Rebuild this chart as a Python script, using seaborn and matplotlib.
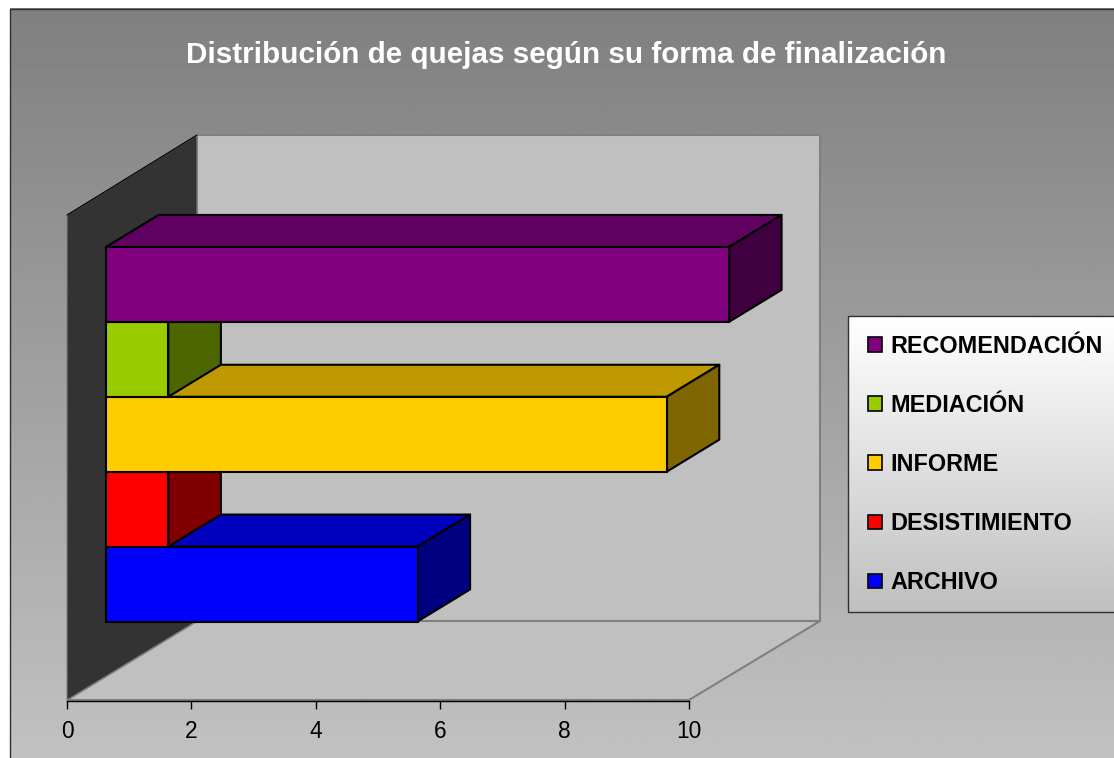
import matplotlib
matplotlib.use("Agg")
import matplotlib.pyplot as plt
import numpy as np
import seaborn as sns
from matplotlib.patches import Patch, Polygon, Rectangle

TITLE = "Distribución de quejas según su forma de finalización"
categories = ["RECOMENDACIÓN", "MEDIACIÓN", "INFORME", "DESISTIMIENTO", "ARCHIVO"]
values = [10, 1, 9, 1, 5]
front_colors = ["#800080", "#99CC00", "#FFCC00", "#FF0000", "#0000FF"]
top_colors = ["#600060", "#739900", "#BF9900", "#BF0000", "#0000BF"]
side_colors = ["#400040", "#4D6600", "#806600", "#800000", "#000080"]
x_ticks = [0, 2, 4, 6, 8, 10]

W, H = 1114, 758
DEPTH_X = 52.5 / 62.2  # depth offset in value units
DEPTH_Y = 32 / 74.8  # depth offset in category rows

sns.set_theme(style="white")
plt.rcParams["font.family"] = ["Liberation Sans", "DejaVu Sans"]


def px_axes(fig, left, top, right, bottom):
    return fig.add_axes([left / W, 1 - bottom / H, (right - left) / W, (bottom - top) / H])


def gradient(ax, x0, y0, x1, y1, c_top, c_bottom):
    ramp = np.linspace(c_top, c_bottom, 256).reshape(-1, 1)
    ax.imshow(ramp, cmap="gray", vmin=0, vmax=1, aspect="auto", extent=(x0, x1, y1, y0), zorder=1)


fig = plt.figure(figsize=(W / 100, H / 100), dpi=100, facecolor="white")

# backdrop in pixel coordinates: chart area, walls, floor, legend box
bg = fig.add_axes([0, 0, 1, 1])
gradient(bg, 9.5, 8.5, W + 5, H + 5, 0.5, 0.76)
bg.add_patch(Rectangle((9.5, 8.5), W, H, fill=False, ec="#303030", lw=1, zorder=2))
bg.add_patch(Polygon([(197, 135), (820, 135), (820, 621), (197, 621)], fc="#C0C0C0", ec="#808080", lw=1.5, zorder=2))
bg.add_patch(Polygon([(67, 700), (689, 700), (820, 621), (197, 621)], fc="#C0C0C0", ec="#808080", lw=1.5, zorder=3))
bg.add_patch(Polygon([(67, 215), (197, 135), (197, 621), (67, 700)], fc="#333333", ec="#808080", lw=0.8, zorder=4))
bg.plot([67, 197], [215, 135], color="black", lw=0.8, zorder=5)
gradient(bg, 848, 316, W + 5, 612, 1.0, 0.75)
bg.add_patch(Rectangle((848, 316), W, 296, fill=False, ec="#303030", lw=1, zorder=2))
bg.set_xlim(0, W)
bg.set_ylim(H, 0)
bg.axis("off")
bg.text(566, 55, TITLE, color="white", fontsize=21.3, fontweight="bold", ha="center", va="center", zorder=6)

# value axis along the front of the floor
ax_floor = px_axes(fig, 67, 640, 689, 700.5)
ax_floor.patch.set_visible(False)
ax_floor.set_xlim(0, 10)
ax_floor.set_xticks(x_ticks)
ax_floor.set_yticks([])
ax_floor.tick_params(axis="x", bottom=True, length=5.8, width=1, color="black", labelsize=16.4, labelcolor="black", pad=8)
sns.despine(ax=ax_floor, left=True)
ax_floor.spines["bottom"].set_color("black")
ax_floor.spines["bottom"].set_linewidth(1)

# bars: front faces from seaborn, depth faces derived from the same values
ax = px_axes(fig, 106, 247, 729, 621.5)
ax.patch.set_visible(False)
sns.barplot(
    x=values,
    y=categories,
    hue=categories,
    palette=front_colors,
    orient="h",
    width=1,
    saturation=1,
    edgecolor="black",
    linewidth=1.5,
    legend=False,
    ax=ax,
)
ax.set_xlim(0, 10)
ax.set_ylim(4.5, -0.5)
ax.axis("off")

for bar in ax.patches:
    row = int(round(bar.get_y() + bar.get_height() / 2))
    bar.set_zorder(10 + (4 - row) + 0.2)
    bar.set_clip_on(False)

for row, v in enumerate(values):
    z = 10 + (4 - row)
    y_up, y_low = row - 0.5, row + 0.5
    top = [(0, y_up), (v, y_up), (v + DEPTH_X, y_up - DEPTH_Y), (DEPTH_X, y_up - DEPTH_Y)]
    side = [(v, y_up), (v + DEPTH_X, y_up - DEPTH_Y), (v + DEPTH_X, y_low - DEPTH_Y), (v, y_low)]
    ax.add_patch(Polygon(top, fc=top_colors[row], ec="black", lw=1.5, zorder=z, clip_on=False, joinstyle="round"))
    ax.add_patch(Polygon(side, fc=side_colors[row], ec="black", lw=1.5, zorder=z + 0.1, clip_on=False, joinstyle="round"))

handles = [Patch(fc=c, ec="black", lw=1.2) for c in front_colors]
leg = bg.legend(
    handles,
    categories,
    loc="center left",
    bbox_to_anchor=(868 / W, 1 - 464.5 / H),
    bbox_transform=fig.transFigure,
    frameon=False,
    prop={"weight": "bold", "size": 16.85},
    labelspacing=1.54,
    handlelength=0.58,
    handleheight=0.58,
    handletextpad=0.36,
    borderpad=0,
    borderaxespad=0,
    labelcolor="black",
)
leg.set_zorder(6)

fig.savefig("out.png", dpi=100)
